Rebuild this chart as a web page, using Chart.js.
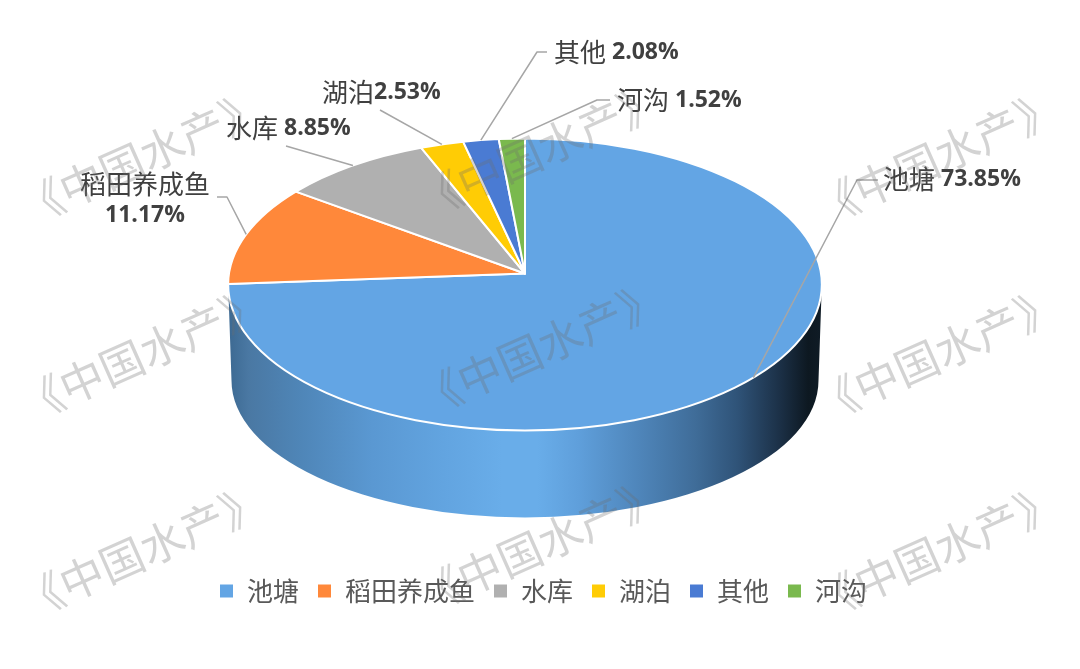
<!DOCTYPE html>
<html>
<head>
<meta charset="utf-8">
<style>
  html, body { margin: 0; background: #fff; }
  canvas { display: block; }
</style>
<script src="https://cdn.jsdelivr.net/npm/chart.js@4"></script>
</head>
<body>
<canvas id="c" width="1080" height="669"></canvas>
<script>
var categories = ['池塘', '稻田养成鱼', '水库', '湖泊', '其他', '河沟'];
var shares = [73.85, 11.17, 8.85, 2.53, 2.08, 1.52];
var colors = ['#63A5E4', '#FF883A', '#B0B0B0', '#FFCC05', '#4A7BD3', '#7AB94E'];
var watermarkText = '《中国水产》';

// where each label sits and where its leader bends: [elbow, end, text x, text y]
var labelSpots = [
  [[857, 180], [878, 180], 883, 179],
  [[227, 197], [217, 197], 80, 184],
  [[286, 146], null, 226, 128],
  [[380, 110], null, 322, 92],
  [[537, 52], [547, 52], 554, 52],
  [[597, 100], [610, 100], 617, 100]
];
var labelGaps = [6, 0, 6, 0, 6, 6];
var watermarkSpots = [
  [142, 157], [142, 354], [142, 551],
  [540, 150], [540, 348], [540, 545],
  [937, 157], [937, 354], [937, 551]
];

// tilted disc: the circle chart.js lays out gets a perspective squash
var tilt = { dx: -18, dy: -6.5, k: 0.4905, p: -0.075 };
var wall = { dy: 96, rx: 293.5, ry: 137 };

function project(arc, a) {
  var d = 1 + tilt.p * Math.sin(a);
  return {
    x: arc.x + tilt.dx + arc.outerRadius * Math.cos(a) / d,
    y: arc.y + tilt.dy + arc.outerRadius * tilt.k * Math.sin(a) / d
  };
}

function discShape(arc) {
  var b = arc.outerRadius * tilt.k, p = tilt.p;
  return {
    cx: arc.x + tilt.dx,
    cy: arc.y + tilt.dy + b * (1 / (1 + p) - 1 / (1 - p)) / 2,
    rx: arc.outerRadius / Math.sqrt(1 - p * p),
    ry: b * (1 / (1 + p) + 1 / (1 - p)) / 2
  };
}

function drawWall(ctx, disc) {
  var g = ctx.createLinearGradient(231, 0, 820, 0);
  g.addColorStop(0, '#3e6b94');
  g.addColorStop(0.03, '#4a78a3');
  g.addColorStop(0.12, '#4f86b8');
  g.addColorStop(0.24, '#5a98d2');
  g.addColorStop(0.36, '#62a4e0');
  g.addColorStop(0.46, '#69ade9');
  g.addColorStop(0.52, '#69ade9');
  g.addColorStop(0.59, '#5f9fdb');
  g.addColorStop(0.69, '#4f86bb');
  g.addColorStop(0.79, '#3f6c98');
  g.addColorStop(0.86, '#2f5378');
  g.addColorStop(0.93, '#1c3148');
  g.addColorStop(0.98, '#0d1821');
  g.addColorStop(1, '#0f1b25');
  ctx.beginPath();
  ctx.ellipse(disc.cx, disc.cy, disc.rx, disc.ry, 0, 0, Math.PI);
  ctx.ellipse(disc.cx, disc.cy + wall.dy, wall.rx, wall.ry, 0, Math.PI, 0, true);
  ctx.closePath();
  ctx.fillStyle = g;
  ctx.fill();
}

function drawSlice(ctx, arc, disc) {
  var s = project(arc, arc.startAngle), e = project(arc, arc.endAngle);
  ctx.beginPath();
  ctx.moveTo(arc.x + tilt.dx, arc.y + tilt.dy);
  ctx.ellipse(disc.cx, disc.cy, disc.rx, disc.ry, 0,
    Math.atan2((s.y - disc.cy) / disc.ry, (s.x - disc.cx) / disc.rx),
    Math.atan2((e.y - disc.cy) / disc.ry, (e.x - disc.cx) / disc.rx));
  ctx.closePath();
  ctx.fillStyle = arc.options.backgroundColor;
  ctx.fill();
  ctx.strokeStyle = arc.options.borderColor;
  ctx.lineWidth = arc.options.borderWidth;
  ctx.lineJoin = 'round';
  ctx.stroke();
}

function drawLabel(ctx, i, arc) {
  var spot = labelSpots[i];
  var start = project(arc, (arc.startAngle + arc.endAngle) / 2);
  ctx.beginPath();
  ctx.moveTo(start.x, start.y);
  ctx.lineTo(spot[0][0], spot[0][1]);
  if (spot[1]) ctx.lineTo(spot[1][0], spot[1][1]);
  ctx.strokeStyle = '#A6A6A6';
  ctx.lineWidth = 1.5;
  ctx.stroke();

  var name = categories[i], pct = shares[i].toFixed(2) + '%';
  var nameFont = '26px "Noto Sans CJK SC"', pctFont = 'bold 23px "Open Sans"';
  ctx.fillStyle = '#404040';
  ctx.textBaseline = 'middle';
  ctx.textAlign = 'left';
  ctx.font = nameFont;
  ctx.fillText(name, spot[2], spot[3]);
  var w = ctx.measureText(name).width;
  ctx.font = pctFont;
  if (i === 1) {
    // the long name wraps, value goes centred underneath
    ctx.textAlign = 'center';
    ctx.fillText(pct, spot[2] + 65, spot[3] + 31);
  } else {
    ctx.fillText(pct, spot[2] + w + labelGaps[i], spot[3]);
  }
}

var tiltedPie = {
  id: 'tiltedPie',
  beforeDatasetDraw: function (chart, args) {
    var ctx = chart.ctx, arcs = args.meta.data, disc = discShape(arcs[0]);
    ctx.save();
    drawWall(ctx, disc);
    arcs.forEach(function (arc) { drawSlice(ctx, arc, disc); });
    arcs.forEach(function (arc, i) { drawLabel(ctx, i, arc); });
    ctx.restore();
    return false;
  },
  afterDraw: function (chart) {
    var ctx = chart.ctx;
    ctx.save();
    ctx.font = '44px "Noto Sans CJK SC"';
    ctx.fillStyle = 'rgba(110,110,110,0.3)';
    ctx.textAlign = 'center';
    ctx.textBaseline = 'middle';
    watermarkSpots.forEach(function (m) {
      ctx.save();
      ctx.translate(m[0], m[1]);
      ctx.rotate(-24 * Math.PI / 180);
      ctx.fillText(watermarkText, 0, 0);
      ctx.restore();
    });
    ctx.restore();
  }
};

new Chart(document.getElementById('c'), {
  type: 'pie',
  data: {
    labels: categories,
    datasets: [{
      data: shares,
      backgroundColor: colors,
      borderColor: '#FFFFFF',
      borderWidth: 2,
      radius: 296
    }]
  },
  options: {
    responsive: false,
    animation: false,
    layout: { padding: { left: 6, bottom: 55 } },
    plugins: {
      tooltip: { enabled: false },
      legend: {
        position: 'bottom',
        labels: {
          boxWidth: 15,
          boxHeight: 15,
          padding: 18,
          color: '#595959',
          font: { family: '"Noto Sans CJK SC"', size: 26 }
        }
      }
    }
  },
  plugins: [tiltedPie]
});
</script>
</body>
</html>
